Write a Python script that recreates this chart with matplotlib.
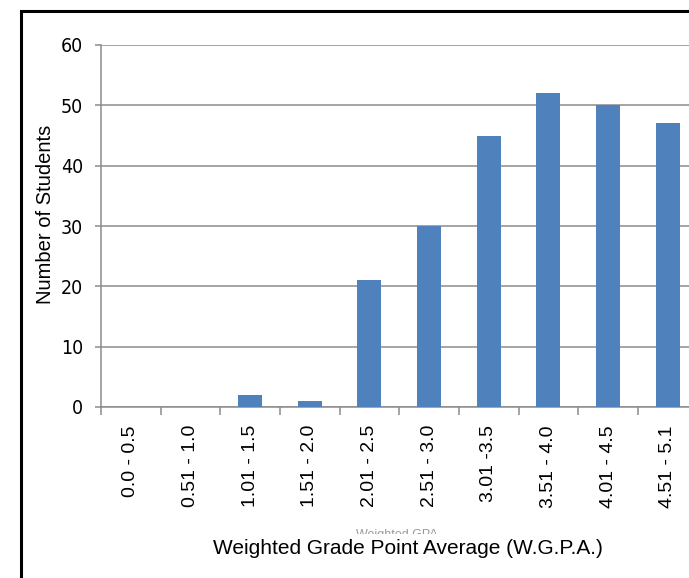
import matplotlib
matplotlib.use("Agg")
import matplotlib.pyplot as plt
from matplotlib.patches import Rectangle
from matplotlib import font_manager

categories = ["0.0 - 0.5", "0.51 - 1.0", "1.01 - 1.5", "1.51 - 2.0", "2.01 - 2.5",
              "2.51 - 3.0", "3.01 -3.5", "3.51 - 4.0", "4.01 - 4.5", "4.51 - 5.1"]
students = [0, 0, 2, 1, 21, 30, 45, 52, 50, 47]
yticks = [0, 10, 20, 30, 40, 50, 60]

W, H = 689, 578
fig = plt.figure(figsize=(W / 100, H / 100), dpi=100)

names = {f.name for f in font_manager.fontManager.ttflist}
if 'Liberation Sans Narrow' in names:
    narrow = dict(family=['Liberation Sans Narrow', 'DejaVu Sans'])
else:
    narrow = dict(family=['DejaVu Sans'], stretch='condensed')
sans = ['Liberation Sans', 'DejaVu Sans']

left, right, top, bottom = 101, 697.5, 45, 407
ax = fig.add_axes([left / W, 1 - bottom / H, (right - left) / W, (bottom - top) / H])

x = list(range(len(categories)))
ax.bar(x, students, width=0.4, color='#4F81BD', zorder=3)
ax.set_xlim(-0.5, len(categories) - 0.5)
ax.set_ylim(0, 60)

grid_c = '#8c8c8c'
ax.set_yticks(yticks)
ax.set_yticklabels([str(v) for v in yticks], fontsize=14, **narrow)
ax.yaxis.grid(True, color=grid_c, linewidth=1.1, zorder=0)
ax.tick_params(axis='y', length=4, width=1.1, color=grid_c, pad=9)

bounds = [i - 0.5 for i in range(len(categories) + 1)]
ax.set_xticks(bounds)
ax.set_xticklabels([''] * len(bounds))
ax.tick_params(axis='x', which='major', length=6, width=1.1, color=grid_c)
ax.set_xticks(x, minor=True)
ax.set_xticklabels(categories, minor=True, rotation=90, family=sans, fontsize=14)
ax.tick_params(axis='x', which='minor', length=0, pad=13)

for s in ['top', 'right']:
    ax.spines[s].set_visible(False)
for s in ['left', 'bottom']:
    ax.spines[s].set_color(grid_c)
    ax.spines[s].set_linewidth(1.1)

fig.text(46 / W, 1 - 214 / H, 'Number of Students', rotation=90, family=sans,
         fontsize=14.5, ha='center', va='center')

# faint hidden title remnant, mostly covered by the axis title
fig.text(397 / W, 1 - 535 / H, 'Weighted GPA', fontsize=9, color='#999999',
         ha='center', va='center', family=sans)
fig.text(408 / W, 1 - 548 / H, 'Weighted Grade Point Average (W.G.P.A.)',
         fontsize=15, ha='center', va='center', family=sans,
         bbox=dict(facecolor='white', edgecolor='none', pad=3))

fig.patches.append(Rectangle((21 / W, -0.2), 1.2, 1.2 - 11 / H, transform=fig.transFigure,
                             fill=False, edgecolor='black', linewidth=2.2, figure=fig))

fig.savefig('out.png', dpi=100)
